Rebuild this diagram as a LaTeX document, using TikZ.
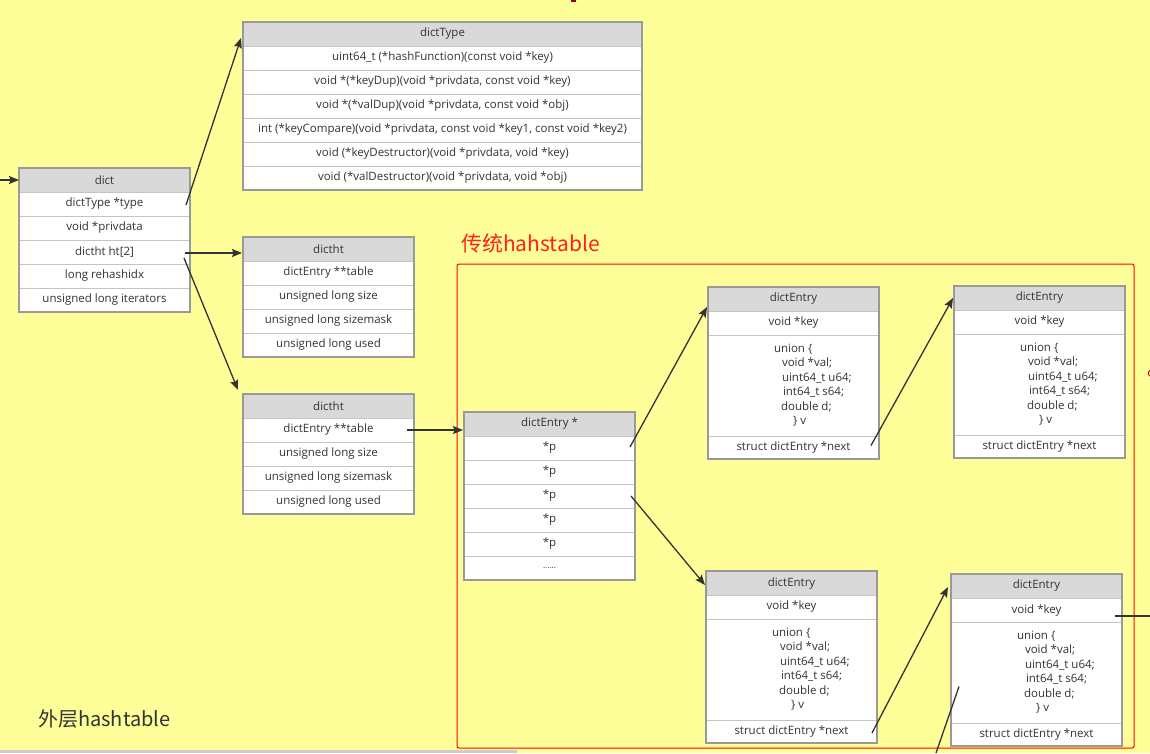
\documentclass[tikz,border=0pt]{standalone}
\usepackage{fontspec}
\setmainfont{Open Sans}
\newfontfamily\cjk{Noto Sans CJK SC}
\usetikzlibrary{arrows.meta,calc}

\definecolor{bg}{HTML}{FFFF99}
\definecolor{hdrfill}{HTML}{D9D9D9}
\definecolor{sepline}{HTML}{C4C4C4}
\definecolor{frameline}{HTML}{999999}
\definecolor{ink}{HTML}{333333}
\definecolor{redtitle}{HTML}{FF2020}
\definecolor{scroll}{HTML}{CDCDCD}

\tikzset{
  cellbase/.style={rectangle, inner sep=0pt, outer sep=0pt, anchor=north west,
    draw=sepline, line width=0.8pt, text=ink, font=\fontsize{11.5}{13}\selectfont},
  hdr/.style={cellbase, fill=hdrfill, minimum height=24pt},
  cell/.style={cellbase, fill=white, minimum height=24pt},
  frame/.style={draw=frameline, line width=1.8pt},
  uni/.style={inner sep=0pt, outer sep=0pt, text=ink, align=left,
    font=\fontsize{11.5}{14.5}\selectfont},
  arr/.style={draw=ink, line width=1.3pt, -{Stealth[length=10pt,width=8pt,inset=1.5pt]}},
  link/.style={draw=ink, line width=1.3pt},
}

% the trailing "more entries" marker of the bucket array
\newcommand\moredots{{\fontsize{8}{8}\selectfont ......}}

% struct table: name, x, y, width, last row index, title, rows
\newcommand\mktable[7]{%
  \node[hdr, minimum width=#4pt] (#1-0) at (#2,#3) {#6};
  \foreach \t [count=\i] in {#7} {
    \node[cell, minimum width=#4pt] (#1-\i) at (#2,{#3+24*\i}) {\t};
  }
  \draw[frame] (#1-0.north west) rectangle (#1-#5.south east);
}

% dictEntry record: name, x, y
\newcommand\mkentry[3]{%
  \node[hdr, minimum width=171pt] (#1-0) at (#2,#3) {dictEntry};
  \node[cell, minimum width=171pt] (#1-1) at (#2,{#3+24}) {void *key};
  \node[cell, minimum width=171pt, minimum height=101pt] (#1-2) at (#2,{#3+48}) {};
  \node[cell, minimum width=171pt, minimum height=23pt] (#1-3) at (#2,{#3+149}) {struct dictEntry *next};
  \draw[frame] (#1-0.north west) rectangle (#1-3.south east);
  \node[uni, anchor=west] (#1-v) at ({#2+66},{#3+98})
    {union \{\\
     \hspace*{8pt}void *val;\\
     \hspace*{8pt}uint64\_t u64;\\
     \hspace*{9pt}int64\_t s64;\\
     \hspace*{7pt}double d;\\
     \hspace*{19pt}\} v};
}

\begin{document}
\begin{tikzpicture}[x=1pt,y=-1pt]
  \useasboundingbox (0,0) rectangle (1150,753);
  \fill[bg] (0,0) rectangle (1150,753);

  % group frame and labels
  \node[draw=red, line width=1pt, rounded corners=2pt, minimum width=677pt,
        minimum height=484pt, anchor=north west, inner sep=0pt, outer sep=0pt]
        (grp) at (457,264) {};
  \node[text=redtitle, font=\cjk\fontsize{21}{24}\selectfont, anchor=west, inner sep=0pt]
        (grptitle) at (461,243) {传统hahstable};
  \node[text=ink, font=\cjk\fontsize{20}{22}\selectfont, anchor=west, inner sep=0pt]
        (outer) at (38,719) {外层hashtable};

  % structures
  \mktable{dict}{19}{168}{171}{5}{dict}{{dictType *type},{void *privdata},{dictht ht[2]},{long rehashidx},{unsigned long iterators}}
  \mktable{dt}{243}{22}{399}{6}{dictType}{{uint64\_t (*hashFunction)(const void *key)},{void *(*keyDup)(void *privdata, const void *key)},{void *(*valDup)(void *privdata, const void *obj)},{int (*keyCompare)(void *privdata, const void *key1, const void *key2)},{void (*keyDestructor)(void *privdata, void *key)},{void (*valDestructor)(void *privdata, void *obj)}}
  \mktable{dhA}{243}{237}{171}{4}{dictht}{{dictEntry **table},{unsigned long size},{unsigned long sizemask},{unsigned long used}}
  \mktable{dhB}{243}{394}{171}{4}{dictht}{{dictEntry **table},{unsigned long size},{unsigned long sizemask},{unsigned long used}}
  \mktable{de}{464}{412}{171}{6}{dictEntry *}{{*p},{*p},{*p},{*p},{*p},{\moredots}}

  \mkentry{ea}{708}{287}
  \mkentry{eb}{954}{286}
  \mkentry{ec}{706}{571}
  \mkentry{ed}{951}{574}

  % connectors
  \coordinate (incoming) at (0,180);
  \draw[arr] (incoming) -- (dict-0.west);
  \draw[arr] ($(dict-1.east)+(-4,1)$) -- ($(dt-0.west)+(-2,4)$);
  \draw[arr] ($(dict-3.east)+(-5,1)$) -- ($(dhA-0.west)+(-1,4)$);
  \draw[arr] ($(dict-3.east)+(-6,6)$) -- ($(dhB-0.north west)+(-5,-4)$);
  \draw[arr] ($(dhB-1.east)+(-7,0)$) -- ($(de-0.west)+(-1,6)$);
  \draw[arr] ($(de-1.east)+(-5,-1)$) -- ($(ea-0.west)+(-1,8)$);
  \draw[arr] ($(de-3.east)+(-4,0)$) -- ($(ec-0.west)+(-1,2)$);
  \draw[arr] ($(ea-3.east)+(-8,-2)$) -- ($(eb-0.west)+(-1,0)$);
  \draw[arr] ($(ec-3.east)+(-5,1.5)$) -- ($(ed-0.west)+(-3,1)$);
  \coordinate (lowend) at (936,753);
  \draw[link] (lowend) -- ($(ed-2.west)+(8,14)$);
  \coordinate (rightend) at (1150,616);
  \draw[link] ($(ed-1.east)+(-7,6)$) -- (rightend);

  % edge fragments and scrollbar
  \draw[red!70!black, line width=0.8pt] (1150.5,376.5) arc[start angle=110, end angle=250, radius=3.5];
  \fill[red!60!black] (571,0) rectangle (576,1.5);
  \fill[scroll] (0,749.5) rectangle (517,753);
\end{tikzpicture}
\end{document}
